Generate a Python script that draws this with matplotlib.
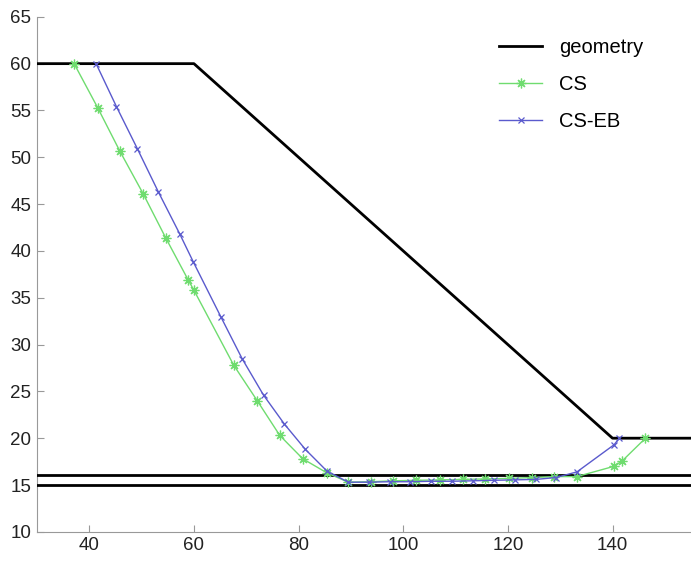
import matplotlib
matplotlib.use('Agg')
import matplotlib.pyplot as plt
import numpy as np

plt.rcParams['font.family'] = ['Liberation Sans', 'DejaVu Sans']

# geometry outline
geom_x = [30, 60, 140, 155]
geom_y = [60, 60, 20, 20]
floor_x = [30, 155]
floor_levels = [15.0, 16.1]

# CS result
cs_x = [37.1, 41.6, 45.8, 50.3, 54.6, 58.9, 60.0, 67.6, 72.1, 76.4, 80.8, 85.4,
        89.5, 93.8, 98.1, 102.5, 107.0, 111.4, 115.7, 120.2, 124.6, 128.9, 133.2,
        140.3, 141.9, 146.3]
cs_y = [60.0, 55.3, 50.7, 46.1, 41.4, 36.9, 35.8, 27.8, 24.0, 20.3, 17.8, 16.3,
        15.3, 15.35, 15.45, 15.5, 15.55, 15.6, 15.65, 15.7, 15.8, 15.9, 15.9,
        17.0, 17.6, 20.0]

# CS-EB result
eb_x = [41.3, 45.2, 49.2, 53.2, 57.3, 59.9, 65.2, 69.2, 73.3, 77.3, 81.3, 85.4,
        89.5, 93.4, 97.4, 101.3, 105.3, 109.3, 113.3, 117.3, 121.3, 125.4, 129.2,
        133.2, 140.3, 141.3]
eb_y = [60.0, 55.4, 50.9, 46.3, 41.8, 38.8, 32.9, 28.5, 24.6, 21.5, 18.8, 16.5,
        15.3, 15.3, 15.35, 15.35, 15.4, 15.4, 15.45, 15.5, 15.55, 15.6, 15.8,
        16.4, 19.3, 20.0]

fig = plt.figure(figsize=(6.91, 5.61), dpi=100)
ax = fig.add_axes([0.0535, 0.052, 0.9465, 0.918])

ax.plot(geom_x, geom_y, color='black', lw=2.0, label='geometry', zorder=3)
for lvl in floor_levels:
    ax.plot(floor_x, [lvl, lvl], color='black', lw=2.0, zorder=3)
ax.plot(cs_x, cs_y, color='#6fdc6f', lw=1.0, marker=(8, 2, 0), ms=7, mew=0.9,
        label='CS', zorder=4)
ax.plot(eb_x, eb_y, color='#5a5acd', lw=1.0, marker='x', ms=5, mew=0.9,
        label='CS-EB', zorder=5)

ax.set_xlim(30, 155)
ax.set_ylim(10, 65)
ax.set_xticks([40, 60, 80, 100, 120, 140])
ax.set_yticks(np.arange(10, 66, 5))

for s in ['top', 'right']:
    ax.spines[s].set_visible(False)
for s in ['left', 'bottom']:
    ax.spines[s].set_color('#999999')
ax.tick_params(direction='in', length=5, color='#999999', labelsize=13.5,
               labelcolor='#222222', pad=4)

ax.legend(loc='upper left', bbox_to_anchor=(0.679, 0.994), frameon=False,
          fontsize=14.5, handlelength=2.15, labelspacing=0.9, handletextpad=0.83)

fig.savefig('out.png', dpi=100)
